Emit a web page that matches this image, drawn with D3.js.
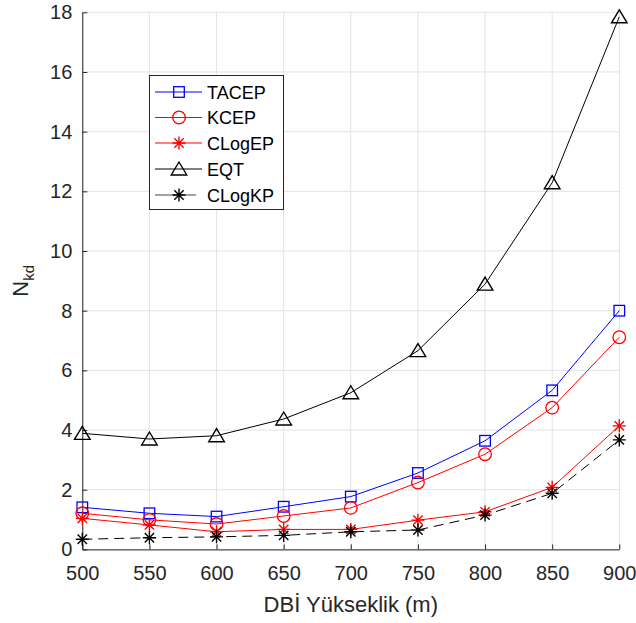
<!DOCTYPE html>
<html>
<head>
<meta charset="utf-8">
<script src="https://cdn.jsdelivr.net/npm/d3@7"></script>
<style>
  html, body { margin: 0; padding: 0; background: #fff; }
  svg { display: block; font-family: "Liberation Sans", Arial, Helvetica, sans-serif; }
</style>
</head>
<body>
<svg id="chart" width="636" height="623"></svg>
<script>
// Heights of the DBİ (m)
const heights = [500, 550, 600, 650, 700, 750, 800, 850, 900];

// N_kd per method
const tacep  = [1.41, 1.21, 1.10, 1.43, 1.77, 2.56, 3.64, 5.33, 8.00];
const kcep   = [1.21, 0.99, 0.85, 1.12, 1.39, 2.24, 3.19, 4.75, 7.11];
const clogep = [1.04, 0.82, 0.59, 0.67, 0.67, 0.98, 1.26, 2.08, 4.14];
const eqt    = [3.89, 3.70, 3.81, 4.37, 5.25, 6.66, 8.89, 12.29, 17.85];
const clogkp = [0.34, 0.39, 0.42, 0.47, 0.59, 0.65, 1.15, 1.88, 3.67];

const xTicks = [500, 550, 600, 650, 700, 750, 800, 850, 900];
const yTicks = [0, 2, 4, 6, 8, 10, 12, 14, 16, 18];

const series = [
  { name: "TACEP",  values: tacep,  color: "#0000ff", marker: "square",   dash: null },
  { name: "KCEP",   values: kcep,   color: "#ff0000", marker: "circle",   dash: null },
  { name: "CLogEP", values: clogep, color: "#ff0000", marker: "asterisk", dash: null },
  { name: "EQT",    values: eqt,    color: "#000000", marker: "triangle", dash: null },
  { name: "CLogKP", values: clogkp, color: "#000000", marker: "asterisk", dash: "10,6" }
];

const svg = d3.select("#chart");
const pLeft = 82.3, pRight = 619.3, pTop = 12.3, pBottom = 549.4;

const x = d3.scaleLinear().domain([500, 900]).range([pLeft, pRight]);
const y = d3.scaleLinear().domain([0, 18]).range([pBottom, pTop]);

const axisColor = "#262626";

// grid
const grid = svg.append("g");
grid.selectAll("line.gx").data(xTicks).enter().append("line")
  .attr("x1", d => x(d)).attr("x2", d => x(d))
  .attr("y1", pTop).attr("y2", pBottom)
  .attr("stroke", "#e3e3e3").attr("stroke-width", 1);
grid.selectAll("line.gy").data(yTicks).enter().append("line")
  .attr("x1", pLeft).attr("x2", pRight)
  .attr("y1", d => y(d)).attr("y2", d => y(d))
  .attr("stroke", "#e3e3e3").attr("stroke-width", 1);

// axes (ticks point inward)
const xAxis = d3.axisBottom(x).tickValues(xTicks).tickSizeInner(-5).tickSizeOuter(0).tickPadding(16);
const yAxis = d3.axisLeft(y).tickValues(yTicks).tickSizeInner(-5).tickSizeOuter(0).tickPadding(10);

const gx = svg.append("g").attr("transform", `translate(0,${pBottom})`).call(xAxis);
const gy = svg.append("g").attr("transform", `translate(${pLeft},0)`).call(yAxis);
[gx, gy].forEach(g => {
  g.select(".domain").attr("stroke", axisColor).attr("stroke-width", 1);
  g.selectAll(".tick line").attr("stroke", axisColor);
  g.selectAll(".tick text").attr("fill", axisColor)
    .style("font-size", "20px").style("font-family", "Liberation Sans, Arial, sans-serif");
});

// axis labels
svg.append("text")
  .attr("x", (pLeft + pRight) / 2).attr("y", 612)
  .attr("text-anchor", "middle").attr("fill", axisColor)
  .style("font-size", "22px")
  .text("DBİ Yükseklik (m)");

const yl = svg.append("text")
  .attr("transform", `translate(28,${(pTop + pBottom) / 2}) rotate(-90)`)
  .attr("text-anchor", "middle").attr("fill", axisColor)
  .style("font-size", "22px");
yl.append("tspan").text("N");
yl.append("tspan").attr("dy", 6).style("font-size", "15px").text("kd");

// marker drawing
function drawMarker(g, type, cx, cy, color) {
  if (type === "square") {
    g.append("rect").attr("x", cx - 5.3).attr("y", cy - 5.3).attr("width", 10.6).attr("height", 10.6)
      .attr("fill", "none").attr("stroke", color).attr("stroke-width", 1.3);
  } else if (type === "circle") {
    g.append("circle").attr("cx", cx).attr("cy", cy).attr("r", 6.3)
      .attr("fill", "none").attr("stroke", color).attr("stroke-width", 1.3);
  } else if (type === "triangle") {
    g.append("path")
      .attr("d", `M${cx},${cy - 7}L${cx + 7.8},${cy + 6}L${cx - 7.8},${cy + 6}Z`)
      .attr("fill", "none").attr("stroke", color).attr("stroke-width", 1.4);
  } else if (type === "asterisk") {
    const r = 6.5;
    let d = `M${cx - r},${cy}L${cx + r},${cy}M${cx},${cy - r}L${cx},${cy + r}`;
    const k = r * 0.72;
    d += `M${cx - k},${cy - k}L${cx + k},${cy + k}M${cx - k},${cy + k}L${cx + k},${cy - k}`;
    g.append("path").attr("d", d).attr("fill", "none").attr("stroke", color).attr("stroke-width", 1.4);
  }
}

const line = d3.line().x((d, i) => x(heights[i])).y(d => y(d));
const plot = svg.append("g");
series.forEach(s => {
  plot.append("path").datum(s.values).attr("d", line)
    .attr("fill", "none").attr("stroke", s.color).attr("stroke-width", 1)
    .attr("stroke-dasharray", s.dash);
  const mg = plot.append("g");
  s.values.forEach((v, i) => drawMarker(mg, s.marker, x(heights[i]), y(v), s.color));
});

// legend
const lg = svg.append("g");
lg.append("rect").attr("x", 149.5).attr("y", 75.5).attr("width", 134).attr("height", 134)
  .attr("fill", "#fff").attr("stroke", axisColor).attr("stroke-width", 1);
const rowY = [92, 117.5, 143, 169, 195];
series.forEach((s, i) => {
  const ly = rowY[i];
  lg.append("line").attr("x1", 155).attr("x2", s.dash ? 196 : 202).attr("y1", ly).attr("y2", ly)
    .attr("stroke", s.dash ? "#444" : s.color).attr("stroke-width", 1);
  drawMarker(lg, s.marker, 179, ly, s.color);
  lg.append("text").attr("x", 207).attr("y", ly + 6.5)
    .attr("fill", "#000").style("font-size", "18px").text(s.name);
});
</script>
</body>
</html>
